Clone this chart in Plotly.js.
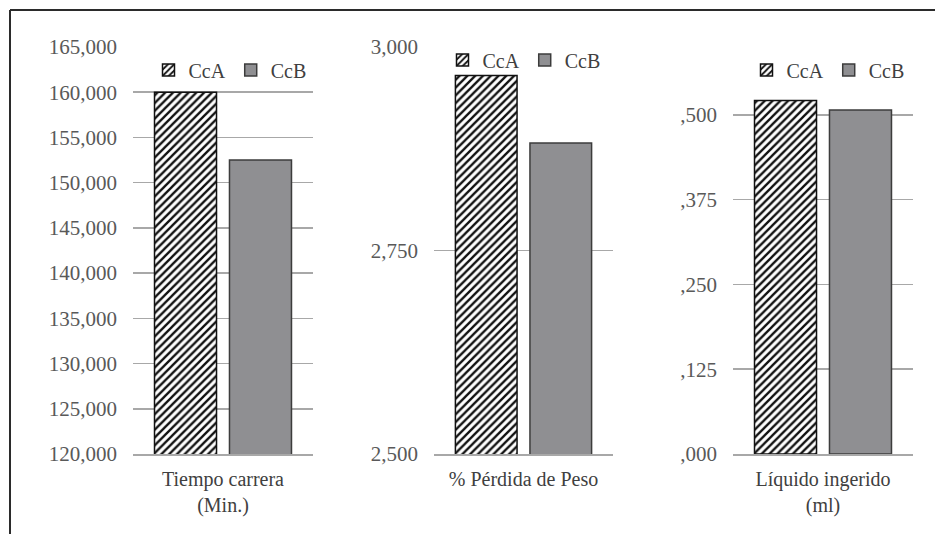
<!DOCTYPE html>
<html>
<head>
<meta charset="utf-8">
<script src="https://cdn.plot.ly/plotly-3.0.1.min.js"></script>
<style>
  html, body { margin: 0; padding: 0; background: #fff; }
  #chart { width: 935px; height: 534px; }
</style>
</head>
<body>
<div id="chart"></div>
<script>
// ---- data ----
const seriesNames = ["CcA", "CcB"];
const categories = ["Tiempo carrera<br>(Min.)", "% Pérdida de Peso", "Líquido ingerido<br>(ml)"];
const ccaValues = [160.0, 2.965, 0.521];
const ccbValues = [152.5, 2.882, 0.507];

const yRanges = [[120, 165], [2.5, 3.0], [0, 0.6]];
const tickVals1 = [120, 125, 130, 135, 140, 145, 150, 155, 160, 165];
const tickText1 = ["120,000", "125,000", "130,000", "135,000", "140,000", "145,000", "150,000", "155,000", "160,000", "165,000"];
const tickVals2 = [2.5, 2.75, 3.0];
const tickText2 = ["2,500", "2,750", "3,000"];
const tickVals3 = [0, 0.125, 0.25, 0.375, 0.5];
const tickText3 = [",000", ",125", ",250", ",375", ",500"];
const tickVals = [tickVals1, tickVals2, tickVals3];
const tickTexts = [tickText1, tickText2, tickText3];

// ---- styling ----
const W = 935, H = 534;
const FONT = "Liberation Serif, Times New Roman, serif";
const gridColor = "#a8a8a8";
const textColor = "#595959";
const plotLeft = [133, 434, 733];
const plotRight = [313, 613, 913];
const plotTop = 47, plotBottom = 454;
const legendPos = [[230, 70], [524, 60], [828, 70]];

const traces = [];
const layout = {
  width: W, height: H,
  margin: {l: 0, r: 0, t: 0, b: 0},
  paper_bgcolor: "#fff", plot_bgcolor: "rgba(0,0,0,0)",
  font: {family: FONT, size: 20, color: textColor},
  barmode: "group",
  bargap: 0.167,
  bargroupgap: 0.173,
  showlegend: true,
  shapes: [
    {type: "line", xref: "paper", yref: "paper", x0: 10 / W, x1: 1.02, y0: 1 - 10 / H, y1: 1 - 10 / H,
     line: {color: "#2b2b2b", width: 2}},
    {type: "line", xref: "paper", yref: "paper", x0: 10 / W, x1: 10 / W, y0: 1 - 10 / H, y1: -0.02,
     line: {color: "#2b2b2b", width: 2}}
  ]
};

for (let i = 0; i < 3; i++) {
  const sfx = i === 0 ? "" : String(i + 1);
  const legendName = "legend" + sfx;
  traces.push({
    type: "bar", name: seriesNames[0], x: [categories[i]], y: [ccaValues[i]],
    xaxis: "x" + sfx, yaxis: "y" + sfx, legend: legendName,
    marker: {color: "#ffffff", line: {color: "#111", width: 1.5},
             pattern: {shape: "/", fgcolor: "#111", bgcolor: "#ffffff", size: 5.5, solidity: 0.42}},
    hoverinfo: "skip"
  });
  traces.push({
    type: "bar", name: seriesNames[1], x: [categories[i]], y: [ccbValues[i]],
    xaxis: "x" + sfx, yaxis: "y" + sfx, legend: legendName,
    marker: {color: "#8f8f92", line: {color: "#3c3c3c", width: 1.5}},
    hoverinfo: "skip"
  });
  layout["xaxis" + sfx] = {
    domain: [plotLeft[i] / W, plotRight[i] / W],
    anchor: "y" + sfx,
    type: "category",
    showgrid: false, zeroline: false,
    showline: true, linecolor: gridColor, linewidth: 1.5,
    ticks: "", ticklabelstandoff: 6,
    tickfont: {family: FONT, size: 20, color: "#404040"},
    fixedrange: true
  };
  layout["yaxis" + sfx] = {
    domain: [1 - plotBottom / H, 1 - plotTop / H],
    anchor: "x" + sfx,
    range: yRanges[i],
    tickmode: "array", tickvals: tickVals[i], ticktext: tickTexts[i],
    showgrid: true, gridcolor: gridColor, gridwidth: 1.5,
    zeroline: false, showline: false, ticks: "",
    ticklabelstandoff: 15,
    tickfont: {family: FONT, size: 21, color: textColor},
    fixedrange: true
  };
  layout[legendName] = {
    orientation: "h",
    x: legendPos[i][0] / W, y: 1 - legendPos[i][1] / H,
    xanchor: "center", yanchor: "middle",
    bgcolor: "rgba(0,0,0,0)",
    font: {family: FONT, size: 20, color: "#404040"},
    itemwidth: 30,
    tracegroupgap: 0,
    traceorder: "normal"
  };
}

Plotly.newPlot("chart", traces, layout, {displayModeBar: false, staticPlot: true});
</script>
</body>
</html>
